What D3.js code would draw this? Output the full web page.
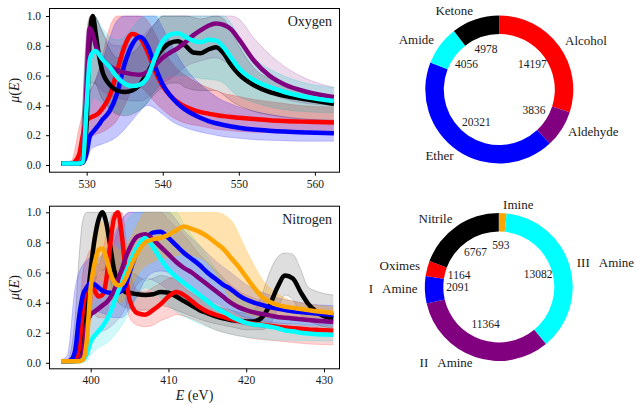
<!DOCTYPE html>
<html><head><meta charset="utf-8">
<script src="https://cdn.jsdelivr.net/npm/d3@7"></script>
<style>
body{margin:0;background:#fff;}
text{font-family:"Liberation Serif";fill:#1a1a1a;white-space:pre;}
</style></head>
<body><svg id="c" width="636" height="405"></svg>
<script>
// ---------- Oxygen panel data ----------
const oxyE = [526.7,528,529,529.5,530,530.4,530.8,531.2,531.6,532,533,534,535,536,537,538,539,540,541,542,543,544,545,546,547,548,549,550,552,554,556,559,562.5];
const oxyAlcohol  = [.01,.01,.07,.2,.3,.315,.325,.335,.35,.375,.46,.63,.8,.88,.855,.76,.63,.53,.465,.42,.39,.37,.355,.345,.335,.328,.322,.317,.308,.3,.295,.29,.285];
const oxyEther    = [.01,.01,.01,.015,.08,.19,.22,.245,.27,.3,.36,.48,.68,.81,.86,.8,.66,.54,.465,.41,.37,.34,.315,.295,.28,.268,.258,.25,.238,.23,.224,.218,.213];
const oxyKetone   = [.01,.01,.01,.02,.3,.85,1.0,.88,.74,.64,.54,.5,.49,.5,.54,.62,.71,.78,.82,.83,.8,.755,.75,.775,.79,.75,.67,.61,.535,.49,.465,.44,.41];
const oxyAldehyde = [.01,.01,.01,.03,.55,.92,.88,.8,.745,.715,.665,.635,.62,.61,.605,.625,.67,.72,.755,.785,.825,.87,.905,.935,.95,.94,.91,.845,.7,.6,.54,.49,.455];
const oxyAmide    = [.01,.01,.01,.02,.4,.7,.755,.765,.745,.715,.66,.59,.545,.53,.54,.59,.72,.83,.875,.885,.86,.835,.825,.84,.835,.79,.72,.65,.57,.525,.49,.455,.43];

// spread of the individual oxygen spectra (lower / upper envelope)
const oxyBandE = [527,528,529,530,530.5,531,532,533,534,535,536,537,538,539,540,541,542,543,545,547,548,549,550,552,555,558,562.5];
const oxyAlcoholLo  = [.005,.005,.01,.12,.18,.2,.22,.25,.3,.4,.5,.52,.48,.42,.37,.33,.3,.28,.26,.24,.235,.23,.225,.22,.215,.21,.21];
const oxyAlcoholHi  = [.02,.03,.25,.45,.5,.55,.72,.92,1,1,1,1,.97,.88,.78,.7,.64,.6,.54,.5,.48,.47,.46,.44,.42,.4,.39];
const oxyAldehydeLo = [.005,.005,.005,.2,.55,.55,.5,.47,.45,.44,.43,.43,.45,.5,.55,.58,.62,.66,.7,.72,.7,.66,.6,.52,.46,.42,.4];
const oxyAldehydeHi = [.02,.02,.03,.9,1,1,.9,.82,.8,.8,.82,.85,.9,.95,1,1,1,1,1,1,1,1,.98,.85,.7,.6,.52];
const oxyEtherLo    = [.005,.005,.005,.03,.1,.12,.14,.16,.19,.24,.3,.36,.4,.38,.34,.3,.27,.25,.22,.2,.19,.185,.18,.17,.165,.16,.16];
const oxyEtherHi    = [.02,.02,.05,.4,.5,.55,.68,.85,.97,1,1,1,1,1,.92,.82,.73,.65,.54,.46,.43,.41,.39,.36,.33,.31,.3];
const oxyAmideLo    = [.005,.005,.005,.15,.4,.45,.42,.38,.35,.34,.35,.37,.42,.5,.57,.6,.6,.6,.58,.57,.55,.5,.46,.42,.38,.36,.35];
const oxyAmideHi    = [.02,.02,.03,.8,.95,1,.92,.86,.84,.86,.92,.98,1,1,1,1,1,1,1,1,1,.95,.86,.72,.62,.56,.52];
const oxyKetoneLo   = [.005,.005,.005,.15,.5,.55,.45,.38,.34,.33,.34,.37,.42,.48,.52,.55,.55,.52,.5,.5,.47,.43,.4,.36,.33,.31,.3];
const oxyKetoneHi   = [.02,.02,.03,.85,1,1,.9,.78,.72,.72,.75,.8,.88,.95,1,1,1,1,.98,1,.98,.9,.8,.65,.56,.5,.47];
const oxyTicksX = [530,540,550,560];

// ---------- Nitrogen panel data ----------
const nitE = [396.2,397,397.5,398,398.5,399,399.5,400,400.5,401,401.5,402,402.5,403,403.5,404,404.5,405,406,407,408,409,410,411,412,413,414,415,416,417,418,419,420,421,422,423,424,425,426,427,428,429,430,431.2];
const nitNitrile = [.01,.01,.01,.02,.06,.2,.38,.62,.82,.95,1.0,.93,.78,.62,.53,.49,.47,.465,.455,.45,.455,.47,.465,.44,.41,.38,.35,.33,.31,.295,.285,.28,.275,.275,.3,.38,.5,.58,.56,.47,.39,.34,.31,.295];
const nitOximes  = [.01,.01,.01,.02,.1,.35,.5,.52,.48,.44,.45,.55,.78,.96,1.0,.85,.6,.42,.33,.32,.35,.39,.44,.47,.45,.41,.37,.34,.32,.305,.29,.278,.268,.26,.253,.247,.24,.235,.23,.226,.222,.219,.216,.213];
const nitAmineI  = [.01,.01,.02,.08,.3,.45,.5,.53,.52,.5,.48,.47,.465,.46,.465,.48,.52,.6,.74,.82,.865,.87,.83,.78,.73,.69,.65,.6,.56,.52,.49,.45,.42,.4,.385,.37,.36,.35,.343,.337,.332,.327,.322,.318];
const nitAmineII = [.01,.01,.01,.01,.02,.06,.25,.32,.34,.36,.38,.4,.43,.48,.55,.62,.7,.76,.84,.855,.82,.77,.72,.67,.63,.6,.56,.52,.48,.44,.4,.37,.35,.335,.325,.315,.305,.3,.295,.29,.285,.28,.276,.272];
const nitAmineIII= [.01,.01,.01,.01,.01,.02,.06,.14,.18,.21,.24,.28,.33,.4,.47,.53,.6,.66,.77,.83,.77,.69,.62,.57,.53,.49,.45,.41,.37,.34,.31,.285,.265,.255,.25,.24,.23,.215,.21,.2,.195,.19,.188,.186];
const nitImine   = [.01,.01,.01,.01,.01,.02,.15,.5,.66,.75,.76,.7,.6,.54,.515,.52,.56,.62,.73,.8,.82,.83,.85,.88,.905,.89,.87,.84,.8,.76,.7,.64,.57,.5,.44,.405,.385,.372,.365,.357,.35,.343,.337,.33];

const nitBandE = [396.2,397,398,398.5,399,399.5,400,401,402,403,404,405,406,407,408,409,410,411,412,414,416,418,420,421,422,423,424,425,426,427,428,431.2];
const nitNitrileLo  = [.005,.005,.01,.03,.05,.15,.35,.6,.62,.45,.38,.36,.35,.35,.36,.38,.37,.35,.33,.29,.26,.24,.22,.22,.22,.25,.35,.45,.42,.32,.28,.23];
const nitNitrileHi  = [.02,.02,.3,.7,.95,1,1,1,1,1,.8,.62,.58,.55,.56,.58,.57,.55,.5,.43,.38,.35,.33,.35,.45,.6,.7,.73,.72,.62,.5,.45];
const nitOximesLo   = [.005,.005,.005,.02,.15,.3,.35,.3,.3,.6,.55,.3,.25,.24,.25,.28,.3,.32,.31,.27,.22,.19,.17,.16,.155,.15,.145,.14,.135,.13,.125,.12];
const nitOximesHi   = [.02,.02,.05,.3,.6,.7,.75,.65,.85,1,1,.62,.48,.47,.5,.53,.56,.57,.54,.46,.39,.34,.3,.29,.28,.27,.265,.26,.255,.25,.245,.24];
const nitAmineILo   = [.005,.005,.01,.1,.25,.32,.35,.34,.32,.3,.3,.36,.45,.55,.6,.61,.6,.56,.52,.45,.4,.35,.3,.29,.28,.27,.265,.26,.26,.255,.25,.25];
const nitAmineIHi   = [.02,.05,.5,.6,.65,.68,.7,.7,.75,.85,.95,1,1,1,1,1,1,.95,.88,.78,.68,.6,.52,.49,.47,.45,.43,.42,.41,.4,.39,.38];
const nitAmineIILo  = [.005,.005,.005,.005,.01,.05,.15,.2,.22,.26,.32,.42,.52,.56,.55,.52,.48,.45,.42,.36,.31,.27,.25,.24,.235,.23,.225,.22,.215,.21,.21,.2];
const nitAmineIIHi  = [.02,.02,.02,.05,.3,.5,.55,.58,.65,.8,.95,1,1,1,1,1,.95,.9,.85,.72,.62,.52,.45,.43,.41,.4,.38,.37,.36,.35,.35,.34];
const nitAmineIIILo = [.005,.005,.005,.005,.005,.01,.05,.1,.13,.18,.25,.34,.44,.5,.48,.43,.38,.34,.31,.26,.22,.19,.17,.165,.16,.155,.15,.15,.148,.146,.145,.145];
const nitAmineIIIHi = [.02,.02,.02,.03,.08,.2,.35,.45,.55,.7,.85,.97,1,1,1,1,1,1,.92,.78,.63,.5,.4,.37,.34,.32,.3,.29,.28,.27,.26,.25];
const nitImineLo    = [.005,.005,.005,.005,.01,.03,.3,.55,.48,.4,.4,.48,.58,.64,.67,.69,.7,.71,.72,.7,.6,.42,.33,.31,.3,.3,.3,.3,.3,.3,.3,.3];
const nitImineHi    = [.02,.02,.02,.03,.05,.4,.75,.95,.9,.78,.75,.82,.92,1,1,1,1,1,1,1,1,.95,.75,.65,.56,.5,.46,.43,.41,.4,.39,.37];
const nitTicksX = [400,410,420,430];
const yTicks = [0,0.2,0.4,0.6,0.8,1.0];

// ---------- Donut data ----------
const oxyClasses = ["Alcohol","Aldehyde","Ether","Amide","Ketone"];
const oxyCounts  = [14197,3836,20321,4056,4978];
const oxyColors  = ["#ff0000","#800080","#0000ff","#00ffff","#000000"];
const nitClasses = ["Imine","III   Amine","II   Amine","I   Amine","Oximes","Nitrile"];
const nitCounts  = [593,13082,11364,2091,1164,6767];
const nitColors  = ["#ffa500","#00ffff","#800080","#0000ff","#ff0000","#000000"];

// ---------- drawing ----------
const FONT = "Liberation Serif, DejaVu Serif, serif";
const svg = d3.select("#c");

function panel(cfg){
  const g = svg.append("g");
  const x = d3.scaleLinear().domain(cfg.xDomain).range([cfg.left, cfg.right]);
  const y = d3.scaleLinear().domain(cfg.yDomain).range([cfg.bottom, cfg.top]);
  const area = d3.area().curve(d3.curveMonotoneX).x(d=>x(d[0])).y0(d=>y(d[1])).y1(d=>y(d[2]));
  const line = d3.line().curve(d3.curveMonotoneX).x(d=>x(d[0])).y(d=>y(d[1]));
  // clouds
  cfg.bands.forEach(b=>{
    const pts = cfg.bandE.map((e,i)=>[e,b.lo[i],b.hi[i]]);
    g.append("path").attr("d",area(pts)).attr("fill",b.color).attr("fill-opacity",b.op).attr("stroke","none");
    g.append("path").attr("d",line(pts.map(p=>[p[0],p[2]]))).attr("fill","none").attr("stroke",b.color).attr("stroke-opacity",0.18).attr("stroke-width",1);
    g.append("path").attr("d",line(pts.map(p=>[p[0],p[1]]))).attr("fill","none").attr("stroke",b.color).attr("stroke-opacity",0.18).attr("stroke-width",1);
  });
  // mean curves
  cfg.means.forEach(m=>{
    g.append("path").attr("d",line(cfg.E.map((e,i)=>[e,m.v[i]])))
      .attr("fill","none").attr("stroke",m.color).attr("stroke-width",4.5)
      .attr("stroke-linejoin","round");
  });
  // frame
  g.append("rect").attr("x",cfg.left+0.5).attr("y",cfg.top+0.5)
    .attr("width",cfg.right-cfg.left-1).attr("height",cfg.bottom-cfg.top-1)
    .attr("fill","none").attr("stroke","#000").attr("stroke-width",1);
  // axes
  const ax = g.append("g").attr("transform",`translate(0,${cfg.bottom-0.5})`)
    .call(d3.axisBottom(x).tickValues(cfg.xTicks).tickFormat(d3.format("d")).tickSize(3.5).tickSizeOuter(0).tickPadding(4));
  const ay = g.append("g").attr("transform",`translate(${cfg.left+0.5},0)`)
    .call(d3.axisLeft(y).tickValues(yTicks).tickFormat(d3.format(".1f")).tickSize(3.5).tickSizeOuter(0).tickPadding(5));
  [ax,ay].forEach(a=>{
    a.attr("font-family",FONT).attr("font-size",11.5);
    a.select(".domain").remove();
    a.selectAll("text").attr("fill","#1a1a1a");
    a.selectAll("line").attr("stroke","#000");
  });
  // title
  g.append("text").attr("x",cfg.right-8).attr("y",cfg.top+15).attr("text-anchor","end")
    .attr("font-family",FONT).attr("dominant-baseline","middle").attr("font-size","14px").text(cfg.title);
  // y label
  const yl = g.append("text").attr("transform",`translate(16,${(cfg.top+cfg.bottom)/2}) rotate(-90)`)
    .attr("font-family",FONT).attr("text-anchor","middle").attr("dominant-baseline","middle").attr("font-size","14px");
  yl.append("tspan").attr("font-style","italic").text("μ");
  yl.append("tspan").text("(");
  yl.append("tspan").attr("font-style","italic").text("E");
  yl.append("tspan").text(")");
  return {x,y,g};
}

panel({
  left:49,right:340,top:8,bottom:172.7,
  xDomain:[525.05,563.3], yDomain:[-0.0517,1.0537],
  E:oxyE, bandE:oxyBandE, xTicks:oxyTicksX, title:"Oxygen",
  bands:[
    {lo:oxyAlcoholLo,hi:oxyAlcoholHi,color:"#ff0000",op:0.24},
    {lo:oxyAldehydeLo,hi:oxyAldehydeHi,color:"#800080",op:0.14},
    {lo:oxyEtherLo,hi:oxyEtherHi,color:"#0000ff",op:0.22},
    {lo:oxyAmideLo,hi:oxyAmideHi,color:"#00c8c8",op:0.2},
    {lo:oxyKetoneLo,hi:oxyKetoneHi,color:"#000000",op:0.13}
  ],
  means:[
    {v:oxyAlcohol,color:"#ff0000"},
    {v:oxyEther,color:"#0000ff"},
    {v:oxyKetone,color:"#000000"},
    {v:oxyAldehyde,color:"#800080"},
    {v:oxyAmide,color:"#00ffff"}
  ]
});

panel({
  left:49,right:340,top:205.7,bottom:369.3,
  xDomain:[394.64,432.06], yDomain:[-0.0432,1.0439],
  E:nitE, bandE:nitBandE, xTicks:nitTicksX, title:"Nitrogen",
  bands:[
    {lo:nitNitrileLo,hi:nitNitrileHi,color:"#000000",op:0.13},
    {lo:nitOximesLo,hi:nitOximesHi,color:"#ff0000",op:0.17},
    {lo:nitAmineILo,hi:nitAmineIHi,color:"#0000ff",op:0.19},
    {lo:nitAmineIILo,hi:nitAmineIIHi,color:"#800080",op:0.15},
    {lo:nitAmineIIILo,hi:nitAmineIIIHi,color:"#00e0e0",op:0.18},
    {lo:nitImineLo,hi:nitImineHi,color:"#ffa500",op:0.32}
  ],
  means:[
    {v:nitNitrile,color:"#000000"},
    {v:nitOximes,color:"#ff0000"},
    {v:nitAmineI,color:"#0000ff"},
    {v:nitAmineII,color:"#800080"},
    {v:nitAmineIII,color:"#00ffff"},
    {v:nitImine,color:"#ffa500"}
  ]
});
// x label
const xl = svg.append("text").attr("x",194.5).attr("y",397).attr("text-anchor","middle")
  .attr("font-family",FONT).attr("dominant-baseline","middle").attr("font-size","14px");
xl.append("tspan").attr("font-style","italic").text("E");
xl.append("tspan").text(" (eV)");

function donut(cx,cy,labels,counts,colors){
  const R=74, r=55.5;
  const g = svg.append("g").attr("transform",`translate(${cx},${cy})`);
  const arcs = d3.pie().sort(null).startAngle(0).endAngle(2*Math.PI)(counts);
  const arc = d3.arc().innerRadius(r).outerRadius(R);
  g.selectAll("path.w").data(arcs).join("path").attr("class","w")
    .attr("d",arc).attr("fill",(d,i)=>colors[i]);
  arcs.forEach((d,i)=>{
    const a=(d.startAngle+d.endAngle)/2, sx=Math.sin(a), sy=-Math.cos(a);
    g.append("text").attr("x",sx*R*1.1).attr("y",sy*R*1.1)
      .attr("font-family",FONT)
      .attr("text-anchor",sx>0?"start":"end").attr("dominant-baseline","middle")
      .attr("font-size","13px").text(labels[i]);
    g.append("text").attr("x",sx*41).attr("y",sy*41)
      .attr("font-family",FONT)
      .attr("text-anchor","middle").attr("dominant-baseline","middle")
      .attr("font-size","11.5px").text(counts[i]);
  });
}
donut(499.3,89.5,oxyClasses,oxyCounts,oxyColors);
donut(498.8,287,nitClasses,nitCounts,nitColors);
</script></body></html>
